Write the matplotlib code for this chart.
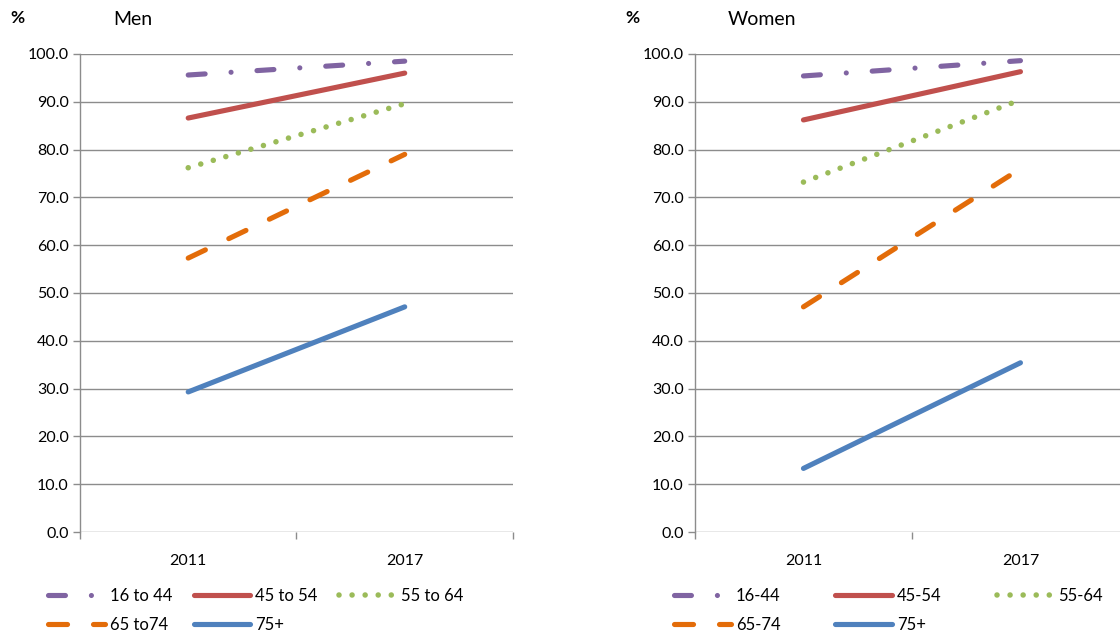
import numpy as np
import matplotlib
matplotlib.use('Agg')
import matplotlib.pyplot as plt

plt.rcParams['font.family'] = ['Lato', 'DejaVu Sans']
plt.rcParams['lines.scale_dashes'] = False

years = ['2011', '2017']

men_labels = ['16 to 44', '45 to 54', '55 to 64', '65 to74', '75+']
women_labels = ['16-44', '45-54', '55-64', '65-74', '75+']

men_16_44 = [95.6, 98.5]
men_45_54 = [86.6, 96.0]
men_55_64 = [76.2, 89.6]
men_65_74 = [57.3, 79.0]
men_75 = [29.3, 47.1]

women_16_44 = [95.4, 98.6]
women_45_54 = [86.2, 96.3]
women_55_64 = [73.2, 90.4]
women_65_74 = [47.1, 76.0]
women_75 = [13.3, 35.4]

colors = ['#8064A2', '#C0504D', '#9BBB59', '#E36C09', '#4F81BD']
# dash patterns in points
styles = [(0, (12.2, 18.7, 0.01, 18.7)), 'solid', (0, (0.01, 9.4)),
          (0, (13.7, 18.7)), 'solid']
widths = [3.7, 3.7, 4.0, 3.7, 3.7]
grid_c = '#8C8C8C'


def draw_panel(ax, series, labels, title, leg_x, colsp):
    x = np.arange(len(years))
    handles = []
    for vals, c, ls, lw, lab in zip(series, colors, styles, widths, labels):
        h, = ax.plot(x, vals, color=c, lw=lw, linestyle=ls,
                     dash_capstyle='round', solid_capstyle='round', label=lab)
        handles.append(h)

    ax.set_xlim(-0.5, 1.5)
    ax.set_ylim(0, 100)
    ax.set_yticks(np.arange(0, 101, 10))
    ax.set_yticklabels(['%.1f' % v for v in np.arange(0, 101, 10)], fontsize=11.5)
    ax.yaxis.grid(True, color=grid_c, lw=1.0)
    ax.set_axisbelow(True)

    ax.set_xticks([-0.5, 0.5, 1.5])
    ax.set_xticklabels([])
    ax.set_xticks(x, minor=True)
    ax.set_xticklabels(years, minor=True, fontsize=11.5)
    ax.tick_params(axis='x', which='minor', length=0, pad=16)
    ax.tick_params(axis='x', which='major', length=5, color=grid_c, width=1.0)
    ax.tick_params(axis='y', length=5, color=grid_c, width=1.0, pad=3)

    for s in ['top', 'right', 'bottom']:
        ax.spines[s].set_visible(False)
    ax.spines['left'].set_color(grid_c)
    ax.spines['left'].set_linewidth(1.0)

    pos = ax.get_position()
    fig.text(pos.x0 - 70 / 1120, 0.972, '%', fontsize=12.5, fontweight='bold', va='center')
    fig.text(pos.x0 + 33 / 1120, 0.97, title, fontsize=14, va='center')

    order = [0, 3, 1, 4, 2]
    ax.legend([handles[i] for i in order], [labels[i] for i in order],
              ncol=3, loc='upper left', bbox_to_anchor=(leg_x, 0.074),
              bbox_transform=fig.transFigure, frameon=False, fontsize=12,
              handlelength=3.4, handletextpad=0.3, columnspacing=colsp,
              labelspacing=0.75, borderpad=0, borderaxespad=0)


fig = plt.figure(figsize=(11.2, 6.35), dpi=100)
ax1 = fig.add_axes([0.0714, 0.1622, 0.3866, 0.7528])
ax2 = fig.add_axes([0.6205, 0.1622, 0.3875, 0.7528])

draw_panel(ax1, [men_16_44, men_45_54, men_55_64, men_65_74, men_75],
           men_labels, 'Men', 48 / 1120, 1.3)
draw_panel(ax2, [women_16_44, women_45_54, women_55_64, women_65_74, women_75],
           women_labels, 'Women', 674 / 1120, 3.3)

fig.savefig('out.png', dpi=100)
